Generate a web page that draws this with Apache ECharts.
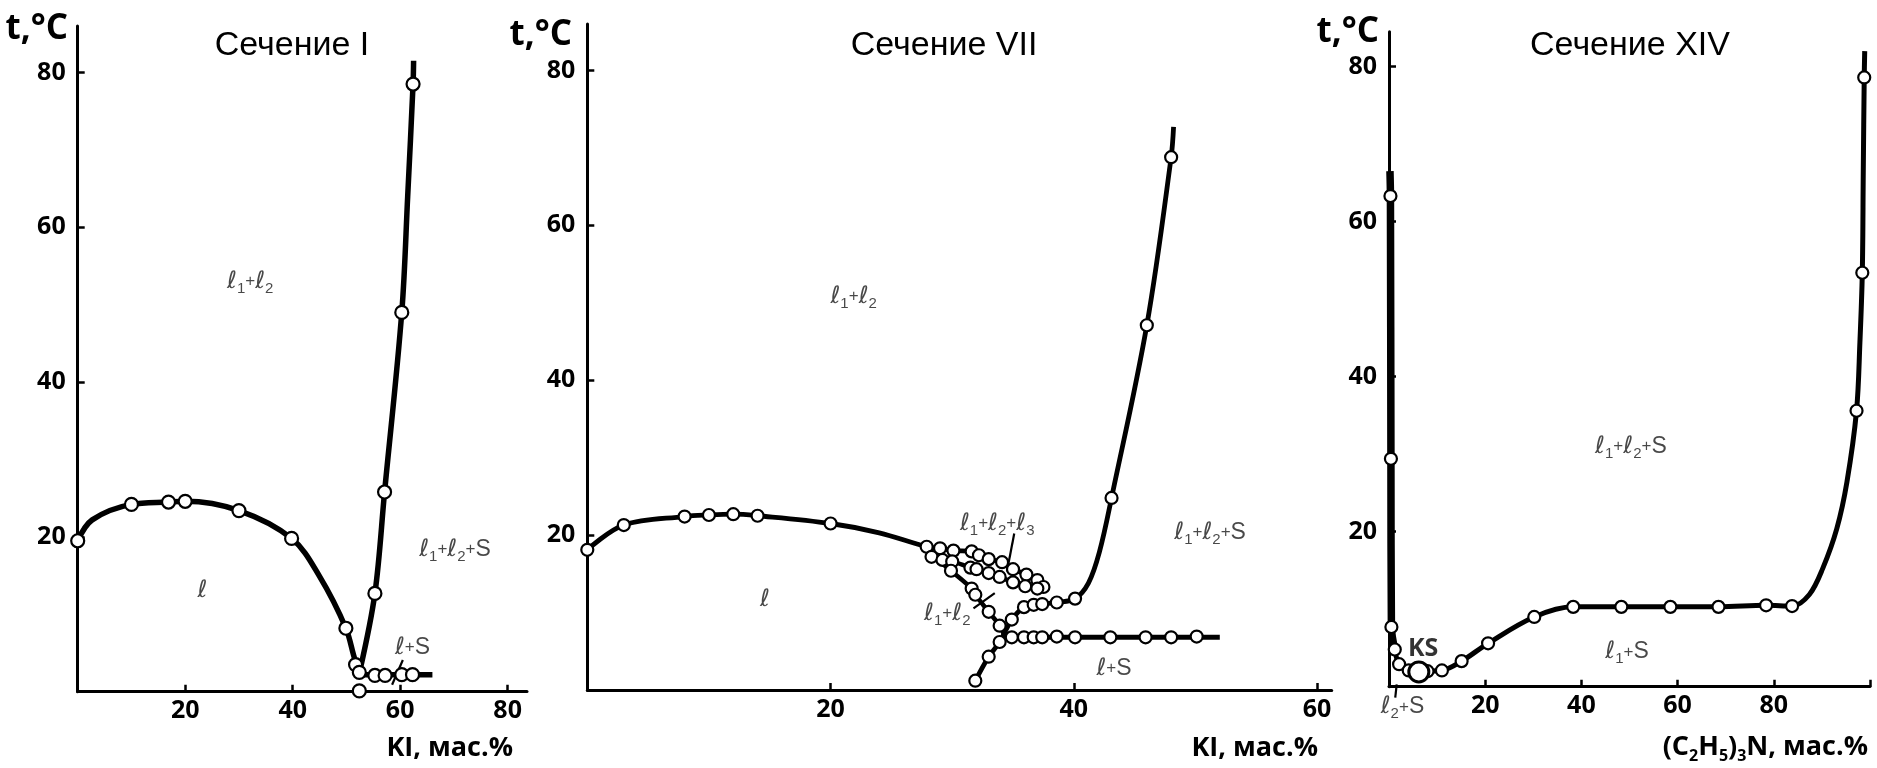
<!DOCTYPE html>
<html>
<head>
<meta charset="utf-8">
<script src="https://cdn.jsdelivr.net/npm/echarts@6/dist/echarts.min.js"></script>
<style>
html, body { margin: 0; padding: 0; background: #fff; }
#chart { width: 1877px; height: 768px; }
</style>
</head>
<body>
<div id="chart"></div>
<script>
// ---- Сечение I ----
const s1Dome = [[0, 19.5], [2.7, 22.2], [10, 24.2], [16.9, 24.5], [20, 24.6], [30, 23.4], [39.8, 19.8], [45, 14.9], [49.9, 8.2], [51.7, 3.9], [52.6, 3.0]];
const s1Right = [[52.6, 3.0], [55.3, 12.7], [57.1, 25.8], [60.3, 49], [61.4, 64], [62.4, 78.5], [62.5, 81.5]];
const s1Flat = [[52.4, 2.2], [66, 2.2]];
const s1Points = [[0, 19.5], [10, 24.2], [16.9, 24.5], [20, 24.6], [30, 23.4], [39.8, 19.8], [49.9, 8.2], [51.7, 3.5], [52.4, 2.5], [52.4, 0.1],
  [55.3, 2.1], [57.2, 2.1], [60.3, 2.2], [62.3, 2.2], [55.3, 12.7], [57.1, 25.8], [60.3, 49], [62.4, 78.5]];
const s1Pointer = [[58.5, 0.9], [60.5, 4.1]];
const s1Labels = [['ℓ_1+ℓ_2', 32.1, 53], ['ℓ', 23.2, 13.1], ['ℓ_1+ℓ_2+S', 70.2, 18.4], ['ℓ+S', 62.3, 5.7]];

// ---- Сечение VII ----
const s7Main = [[0, 18.1], [3, 21.3], [8, 22.4], [10, 22.6], [12, 22.7], [14, 22.5], [20, 21.5], [24, 20.3], [27.9, 18.5], [29.0, 18.3], [30.1, 18.0],
  [31.6, 17.9], [32.2, 17.4], [33, 16.9], [34.1, 16.5], [35, 15.6], [36.1, 14.9], [37, 14.2], [37.5, 13.3]];
const s7Band = [[27.9, 18.5], [28.3, 17.2], [29.2, 16.8], [30, 16.6], [31.5, 15.8], [32, 15.6], [33, 15.1], [33.9, 14.6], [35, 13.9], [36, 13.4], [37, 13.1]];
const s7Steep = [[27.9, 18.5], [29, 16.6], [29.9, 15.4], [31.6, 13.1], [31.9, 12.3], [33, 10.1], [33.9, 8.3], [34.3, 7.0]];
const s7Rise = [[31.9, 1.2], [33, 4.3], [33.9, 6.2], [34.9, 9.1], [35.9, 10.7], [36.7, 11], [37.4, 11.1], [38.6, 11.3], [40.1, 11.8], [41.2, 13.8],
  [42.1, 17.8], [43.1, 24.8], [46, 47.1], [48, 68.8], [48.2, 72.7]];
const s7Flat = [[34.2, 6.8], [52, 6.8]];
const s7Points = [[0, 18.1], [3, 21.3], [8, 22.4], [10, 22.6], [12, 22.7], [14, 22.5], [20, 21.5], [27.9, 18.5],
  [29.0, 18.3], [30.1, 18.0], [31.6, 17.9], [32.2, 17.4], [33, 16.9], [34.1, 16.5], [35, 15.6], [36.1, 14.9], [37, 14.2], [37.5, 13.3],
  [28.3, 17.2], [29.2, 16.8], [30, 16.6], [31.5, 15.8], [32, 15.6], [33, 15.1], [33.9, 14.6], [35, 13.9], [36, 13.4], [37, 13.1],
  [29.9, 15.4], [31.6, 13.1], [31.9, 12.3], [33, 10.1], [33.9, 8.3],
  [31.9, 1.2], [33, 4.3], [33.9, 6.2], [34.9, 9.1], [35.9, 10.7], [36.7, 11], [37.4, 11.1], [38.6, 11.3], [40.1, 11.8], [43.1, 24.8], [46, 47.1], [48, 68.8],
  [34.9, 6.8], [35.9, 6.8], [36.7, 6.8], [37.4, 6.8], [38.6, 6.9], [40.1, 6.8], [43, 6.8], [45.9, 6.8], [48, 6.8], [50.1, 6.9]];
const s7Pointer3 = [[35.1, 20.2], [34.5, 15.3]];
const s7Pointer2 = [[31.75, 10.55], [33.5, 12.5]];
const s7Labels = [['ℓ_1+ℓ_2', 21.9, 50.8], ['ℓ', 14.6, 11.7], ['ℓ_1+ℓ_2+ℓ_3', 33.7, 21.5], ['ℓ_1+ℓ_2', 29.6, 9.9],
  ['ℓ+S', 43.3, 2.8], ['ℓ_1+ℓ_2+S', 51.2, 20.3]];

// ---- Сечение XIV ----
const s14Left = [[0.2, 66.5], [0.3, 63.3], [0.4, 29.4], [0.5, 7.7], [1.2, 4.8]];
const s14Curve = [[0.5, 7.7], [1.2, 4.8], [2.1, 2.9], [4.1, 2.1], [6.2, 1.9], [8, 2.0], [11, 2.1], [15.1, 3.3], [20.6, 5.6], [30.2, 9.0], [38.3, 10.3],
  [48.3, 10.3], [58.5, 10.3], [68.5, 10.3], [78.4, 10.5], [83.8, 10.4], [87.4, 11.9], [90.2, 15.3], [93.1, 20.4], [95.2, 26.4], [97.2, 35.6],
  [97.9, 44.4], [98.4, 53.4], [98.6, 66.4], [98.8, 78.6], [98.9, 82]];
const s14Points = [[0.3, 63.3], [0.4, 29.4], [0.5, 7.7], [1.2, 4.8], [2.1, 2.9], [4.1, 2.1], [8, 2.0], [11, 2.1], [15.1, 3.3], [20.6, 5.6], [30.2, 9.0],
  [38.3, 10.3], [48.3, 10.3], [58.5, 10.3], [68.5, 10.3], [78.4, 10.5], [83.8, 10.4], [97.2, 35.6], [98.4, 53.4], [98.8, 78.6]];
const s14KS = [[6.2, 1.9]];
const s14Pointer = [[1.6, 0.3], [1.3, -1.4]];
const s14Labels = [['ℓ_1+ℓ_2+S', 50.3, 31], ['ℓ_1+S', 49.5, 4.5], ['ℓ_2+S', 2.8, -2.6]];

// axis ticks
const tTicks = [20, 40, 60, 80];
const x1Ticks = [20, 40, 60, 80];
const x7Ticks = [20, 40, 60];
const x14Ticks = [20, 40, 60, 80, 100];
const x14Labels = [20, 40, 60, 80];

const chart = echarts.init(document.getElementById('chart'));
const INK = '#1a1a1a';
const labRich = {
  l: { fontFamily: 'DejaVu Sans', fontStyle: 'italic', fontSize: 24, lineHeight: 30, color: INK },
  s: { fontFamily: 'Liberation Sans', fontSize: 15, lineHeight: 17, verticalAlign: 'bottom', color: INK },
  p: { fontFamily: 'Liberation Sans', fontSize: 17, lineHeight: 30, color: INK },
  t: { fontFamily: 'Liberation Sans', fontSize: 23, lineHeight: 30, color: INK }
};
function rich(txt) {
  return txt.replace(/ℓ/g, '{l|ℓ}').replace(/_(\d)/g, '{s|$1}').replace(/\+/g, '{p|+}').replace(/S/g, '{t|S}');
}

function xAx(g, max, ticks, labels) {
  return {
    type: 'value', gridIndex: g, min: 0, max: max,
    axisLine: { lineStyle: { color: '#000', width: 3 } },
    axisTick: { inside: true, length: 7, lineStyle: { color: '#000', width: 2.5 }, customValues: ticks },
    axisLabel: { customValues: labels, color: '#000', fontFamily: 'Open Sans', fontWeight: 'bold', fontSize: 25, margin: 7 },
    splitLine: { show: false }
  };
}
function yAx(g, max) {
  return {
    type: 'value', gridIndex: g, min: 0, max: max,
    axisLine: { lineStyle: { color: '#000', width: 3 } },
    axisTick: { inside: true, length: 7, lineStyle: { color: '#000', width: 2.5 }, customValues: tTicks },
    axisLabel: { customValues: tTicks, color: '#000', fontFamily: 'Open Sans', fontWeight: 'bold', fontSize: 25, margin: 12 },
    splitLine: { show: false }
  };
}
function line(g, data, w) {
  return {
    type: 'line', xAxisIndex: g, yAxisIndex: g, data: data, smooth: 0.35, showSymbol: false, symbol: 'none',
    lineStyle: { color: '#000', width: w }, clip: false, silent: true, z: 2
  };
}
function dots(g, data, size, bw) {
  return {
    type: 'scatter', xAxisIndex: g, yAxisIndex: g, data: data, symbol: 'circle', symbolSize: size,
    itemStyle: { color: '#fff', borderColor: '#000', borderWidth: bw || 2.2, opacity: 1 }, clip: false, silent: true, z: 3
  };
}
function labels(g, arr) {
  return {
    type: 'scatter', xAxisIndex: g, yAxisIndex: g, symbolSize: 0, clip: false, silent: true, z: 4,
    data: arr.map(function (a) { return { name: a[0], value: [a[1], a[2]] }; }),
    label: { show: true, position: 'inside', formatter: function (p) { return rich(p.name); }, rich: labRich }
  };
}
function txt(x, y, text, font, align, extra) {
  return {
    type: 'text', x: x, y: y, silent: true,
    style: Object.assign({ text: text, font: font, fill: '#000', align: align, verticalAlign: 'middle' }, extra || {})
  };
}

const titleFont = '34px "Liberation Sans"';
const nameFont = 'bold 27px "Open Sans"';
const tFont = 'bold 35px "Open Sans"';

chart.setOption({
  animation: false,
  grid: [
    { left: 77.7, top: 26, width: 449.3, height: 665.7, outerBoundsMode: 'none' },
    { left: 587.3, top: 24, width: 744.4, height: 666, outerBoundsMode: 'none' },
    { left: 1389, top: 31.7, width: 481, height: 655, outerBoundsMode: 'none' }
  ],
  xAxis: [xAx(0, 83.6, x1Ticks, x1Ticks), xAx(1, 61.2, x7Ticks, x7Ticks), xAx(2, 100, x14Ticks, x14Labels)],
  yAxis: [yAx(0, 86), yAx(1, 86), yAx(2, 84.5)],
  series: [
    line(0, s1Dome, 5.5), line(0, s1Right, 5.5), line(0, s1Flat, 5.5), line(0, s1Pointer, 2.2),
    dots(0, s1Points, 13), labels(0, s1Labels),

    line(1, s7Main, 4.8), line(1, s7Band, 4.5), line(1, s7Steep, 4.5), line(1, s7Rise, 4.8), line(1, s7Flat, 5),
    line(1, s7Pointer3, 2.2), line(1, s7Pointer2, 2.2),
    dots(1, s7Points, 12), labels(1, s7Labels),

    line(2, s14Left, 7.5), line(2, s14Curve, 5), line(2, s14Pointer, 2.2),
    dots(2, s14Points, 12), dots(2, s14KS, 20, 3), labels(2, s14Labels),
    {
      type: 'scatter', xAxisIndex: 2, yAxisIndex: 2, symbolSize: 0, silent: true, z: 4,
      data: [{ name: 'KS', value: [7.1, 4.9] }],
      label: { show: true, position: 'inside', formatter: '{b}', fontFamily: 'Open Sans', fontWeight: 'bold', fontSize: 25, color: '#000' }
    }
  ],
  graphic: [
    txt(292, 46, 'Сечение I', titleFont, 'center'),
    txt(944, 46, 'Сечение VII', titleFont, 'center'),
    txt(1630, 46, 'Сечение XIV', titleFont, 'center'),
    txt(68, 29, 't,°C', tFont, 'right'),
    txt(572, 35, 't,°C', tFont, 'right'),
    txt(1379, 32, 't,°C', tFont, 'right'),
    txt(513, 748, 'KI, мас.%', nameFont, 'right'),
    txt(1318, 748, 'KI, мас.%', nameFont, 'right'),
    txt(1868, 747, '{a|(C}{s|2}{a|H}{s|5}{a|)}{s|3}{a|N, мас.%}', nameFont, 'right', {
      rich: {
        a: { fontFamily: 'Open Sans', fontWeight: 'bold', fontSize: 27, lineHeight: 34 },
        s: { fontFamily: 'Open Sans', fontWeight: 'bold', fontSize: 16, lineHeight: 20, verticalAlign: 'bottom' }
      }
    })
  ]
});
</script>
</body>
</html>
